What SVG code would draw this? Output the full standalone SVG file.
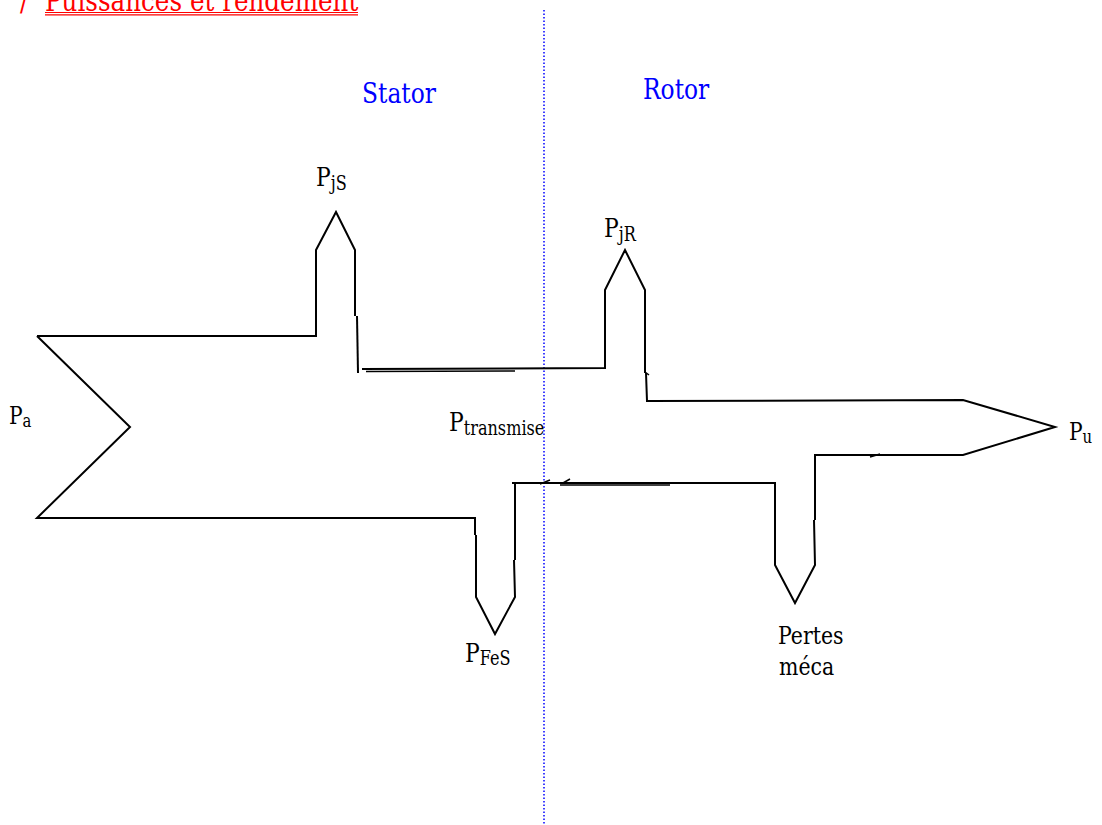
<svg xmlns="http://www.w3.org/2000/svg" width="1102" height="825" viewBox="0 0 1102 825">
<style>
text{font-family:"DejaVu Serif","Liberation Serif",serif;fill:#000}
.t32{font-size:29.8px}
.t31{font-size:28.3px}
.t28{font-size:26.5px}
.t27{font-size:24.8px}
.t26{font-size:24.5px}
.sub{font-size:19.5px}
.sub2{font-size:18px}
.blue{fill:#0000ff}
.red{fill:#ff0000}
.ol{fill:none;stroke:#000;stroke-width:2;stroke-linejoin:miter}
.tk{fill:none;stroke:#000;stroke-width:1.5}
</style>
<rect width="1102" height="825" fill="#fff"/>
<g id="title">
<text transform="translate(20 11) scale(0.826 1)" class="t32 red">/</text>
<text transform="translate(45 11) scale(0.826 1)" class="t32 red">Puissances et rendement</text>
<line x1="45" y1="12.5" x2="358" y2="12.5" stroke="#ff0000" stroke-width="1.2"/>
<line x1="45" y1="14.8" x2="358" y2="14.8" stroke="#ff0000" stroke-width="1.2"/>
</g>
<line id="separator" x1="544" y1="10" x2="544" y2="825" stroke="#0000ff" stroke-width="1.5" stroke-dasharray="1.5 2"/>
<g id="labels-zones">
<text transform="translate(362 103) scale(0.826 1)" class="t31 blue">Stator</text>
<text transform="translate(643 99) scale(0.826 1)" class="t31 blue">Rotor</text>
</g>
<g id="flow">
<polyline class="ol" points="37,336 316,336 316,250 336,212 355,250 355,316"/>
<polyline class="ol" points="357,316 358,373"/>
<polyline class="ol" points="362,369 605,368 605,290 625,250 645,290 645,373"/>
<polyline class="ol" points="646,373 647,401 963,400 1055,427 963,455 815,455 815,520"/>
<polyline class="ol" points="814,520 815,565 795,603 775,565 775,483 512,483"/>
<polyline class="ol" points="515,483 515,560"/>
<polyline class="ol" points="514,560 515,597 495,634 476,597 476,535"/>
<polyline class="ol" points="475,535 475,518 37,518 130,427 37,336"/>
<line class="tk" x1="366" y1="371.5" x2="515" y2="371"/>
<line class="tk" x1="560" y1="485" x2="670" y2="485"/>
<line class="tk" x1="540" y1="484" x2="550" y2="480"/>
<line class="tk" x1="563" y1="483" x2="570" y2="479"/>
<line class="tk" x1="645" y1="372" x2="649" y2="375"/>
<line class="tk" x1="870" y1="457" x2="880" y2="454"/>
</g>
<g id="label-pa"><text transform="translate(9 424) scale(0.826 1)" class="t26">P<tspan class="sub2" dy="3">a</tspan></text></g>
<g id="label-pjs"><text transform="translate(316 186) scale(0.826 1)" class="t28">P<tspan class="sub" dy="4">jS</tspan></text></g>
<g id="label-pjr"><text transform="translate(604 237) scale(0.826 1)" class="t28">P<tspan class="sub" dy="4">jR</tspan></text></g>
<g id="label-ptransmise"><text transform="translate(449 431) scale(0.826 1)" class="t28">P<tspan class="sub" dy="4">transmise</tspan></text></g>
<g id="label-pu"><text transform="translate(1069 440) scale(0.826 1)" class="t26">P<tspan class="sub2" dy="3">u</tspan></text></g>
<g id="label-pfes"><text transform="translate(465 662) scale(0.826 1)" class="t28">P<tspan class="sub" dy="3">FeS</tspan></text></g>
<g id="label-pertes">
<text transform="translate(778 644) scale(0.826 1)" class="t27">Pertes</text>
<text transform="translate(779 675) scale(0.826 1)" class="t27">méca</text>
</g>
</svg>
